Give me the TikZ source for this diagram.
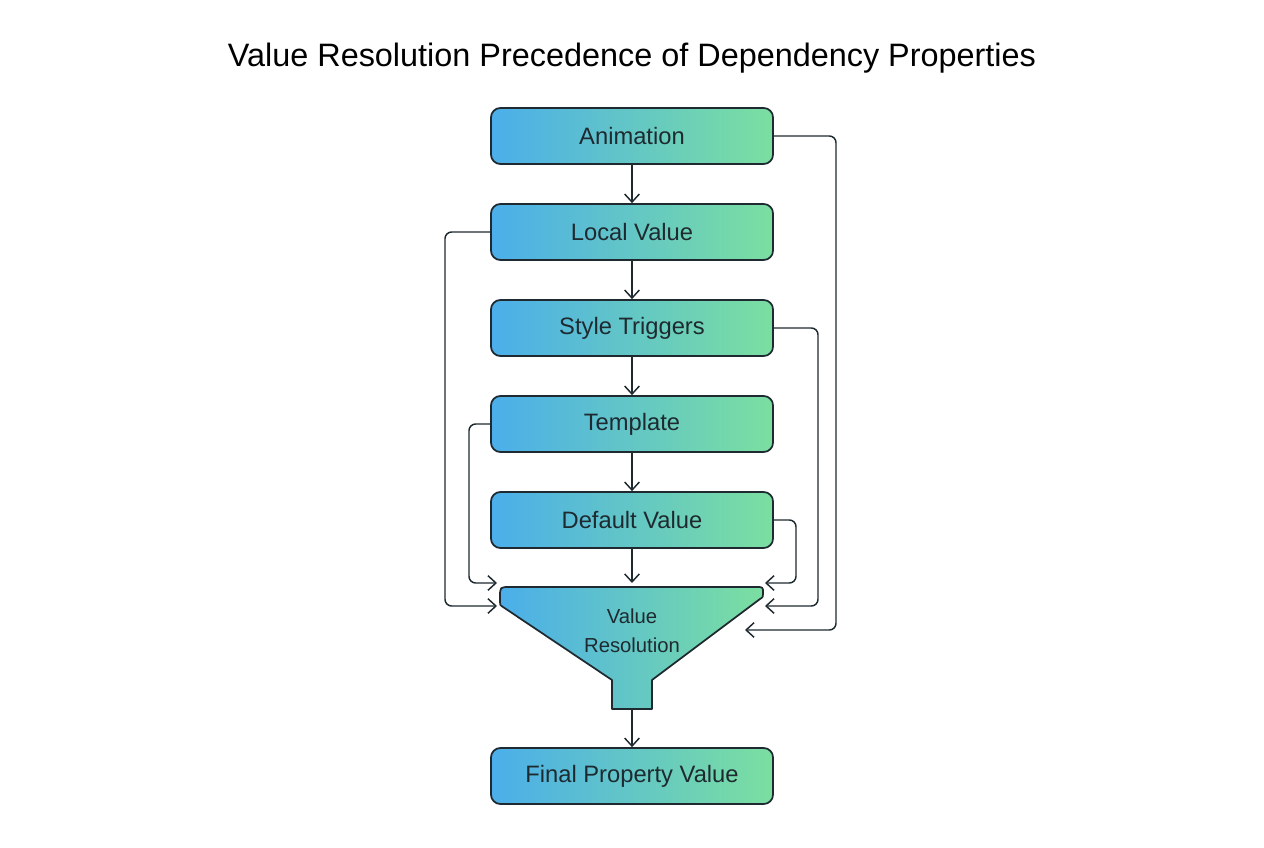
\documentclass[tikz,border=0pt]{standalone}
\usepackage{fontspec}
\setmainfont{Liberation Sans}
\usetikzlibrary{arrows.meta}
\definecolor{cblue}{HTML}{4BAEEA}
\definecolor{cgreen}{HTML}{7BDFA0}
\definecolor{cedge}{HTML}{1E2A30}
\begin{document}
\begin{tikzpicture}[x=0.75pt,y=-0.75pt,
  box/.style={draw=cedge,line width=1.3pt,rounded corners=7pt,left color=cblue,right color=cgreen,minimum width=282*0.75pt,minimum height=56*0.75pt,inner sep=0pt,font=\fontsize{17.8}{20}\selectfont,text=cedge},
  arr/.style={draw=cedge,line width=1.1pt,-{Straight Barb[length=6pt,width=11pt]},rounded corners=5pt}]
\useasboundingbox (0,0) rectangle (1264,848);
\node[font=\fontsize{24.3}{28}\selectfont,text=black] (title) at (632,58) {Value Resolution Precedence of Dependency Properties};
\node[box] (a) at (632,136) {Animation};
\node[box] (l) at (632,232) {Local Value};
\node[box] (s) at (632,328) {Style Triggers};
\node[box] (t) at (632,424) {Template};
\node[box] (d) at (632,520) {Default Value};
\node[box] (f) at (632,776) {Final Property Value};
\draw[draw=cedge,line width=1.3pt,left color=cblue,right color=cgreen,line join=round]
  (510,587) .. controls (500,587) .. (500,597) -- (500,602) .. controls (500,605) .. (503,607)
  -- (612,680) -- (612,709) -- (652,709) -- (652,680) -- (760,599)
  .. controls (763,597) .. (763,594) -- (763,593) .. controls (763,587) .. (756,587) -- cycle;
\node[font=\fontsize{15.2}{22}\selectfont,align=center,text=cedge] (v) at (632,631) {Value\\Resolution};
\coordinate (vt) at (632,583);
\coordinate (vb) at (632,709);
\coordinate (la) at (497,606);
\coordinate (lt) at (497,583);
\coordinate (rd) at (765,583);
\coordinate (rs) at (765,606);
\coordinate (ra) at (745,630);
\draw[arr] (a) -- (l);
\draw[arr] (l) -- (s);
\draw[arr] (s) -- (t);
\draw[arr] (t) -- (d);
\draw[arr] (d) -- (vt);
\draw[arr] (vb) -- (f);
\draw[arr] (a.east) -- (836,136) -- (836,630) -- (ra);
\draw[arr] (l.west) -- (445,232) -- (445,606) -- (la);
\draw[arr] (s.east) -- (818,328) -- (818,606) -- (rs);
\draw[arr] (t.west) -- (469,424) -- (469,583) -- (lt);
\draw[arr] (d.east) -- (796,520) -- (796,583) -- (rd);
\end{tikzpicture}
\end{document}
